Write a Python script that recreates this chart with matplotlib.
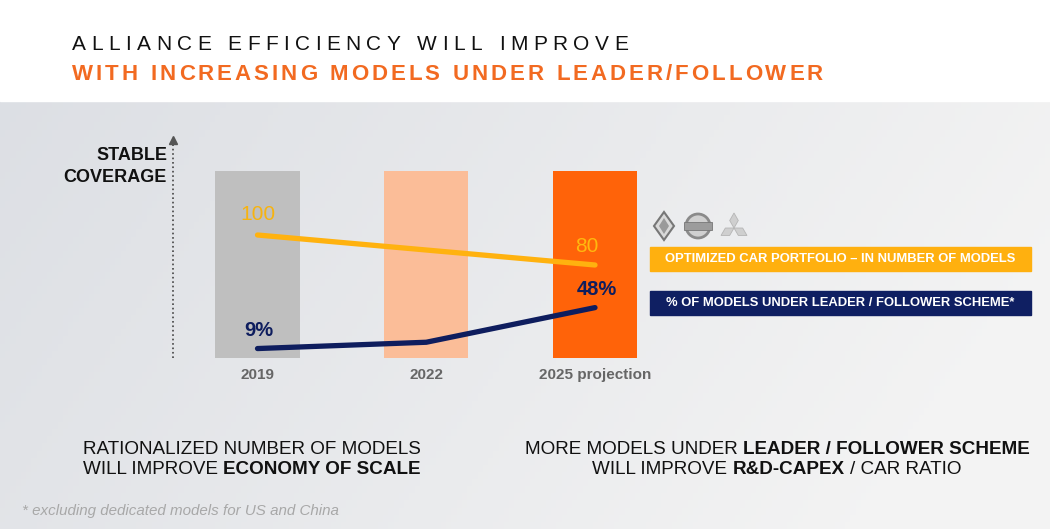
import numpy as np
import matplotlib.pyplot as plt
from matplotlib.patches import Rectangle, Polygon, Circle

plt.rcParams['font.family'] = ['Liberation Sans', 'DejaVu Sans']

# Data
years = ['2019', '2022', '2025 projection']
coverage = [1, 1, 1]                      # stable coverage, same for each year
portfolio_x = [0, 2]                      # optimized car portfolio (number of models)
portfolio = [100, 80]
leader_share = [9, 15, 48]                # % of models under leader / follower scheme
leader_labels = ['9%', '', '48%']

title1 = 'ALLIANCE EFFICIENCY WILL IMPROVE'
title2 = 'WITH INCREASING MODELS UNDER LEADER/FOLLOWER'
legend1 = 'OPTIMIZED CAR PORTFOLIO \u2013 IN NUMBER OF MODELS'
legend2 = '% OF MODELS UNDER LEADER / FOLLOWER SCHEME*'
footnote = '* excluding dedicated models for US and China'

bar_colors = ['#bfbfbf', '#fbbd98', '#ff6309']
yellow = '#ffb20f'
navy = '#0e1d5e'
orange = '#f26a21'

W, H = 1050, 529
fig = plt.figure(figsize=(W / 100, H / 100), dpi=100)

# background: white header, grey gradient below
bg = fig.add_axes([0, 0, 1, 1])
bg.set_xlim(0, W)
bg.set_ylim(H, 0)
bg.axis('off')
gx = np.linspace(0, 1, 200)
gy = np.linspace(0, 1, 60)
GX, GY = np.meshgrid(gx, gy)
left_c = np.array([0.865, 0.875, 0.895])
right_c = np.array([0.955, 0.955, 0.955])
t = np.clip(GX * 0.9 + GY * 0.25, 0, 1)[..., None]
grad = left_c * (1 - t) + right_c * t
bg.imshow(grad, extent=[0, W, H, 101], aspect='auto', zorder=0)
bg.add_patch(Rectangle((0, 0), W, 101, color='white', zorder=1))

# vertical dotted axis arrow
bg.plot([173, 173], [358, 142], ls=':', color='#444444', lw=1.2, zorder=2)
bg.plot([173], [140], marker='^', color='#555555', ms=6, zorder=2)

# main chart
x = np.arange(len(years))
px = 168.75
ax = fig.add_axes([(257.5 - 0.55 * px) / W, 1 - 358 / H, 3.1 * px / W, (358 - 135) / H])
ax.patch.set_alpha(0)
ax.bar(x, coverage, width=0.5, color=bar_colors, zorder=1)
ax.set_xlim(-0.55, 2.55)
ax.set_ylim(0, 223 / 187)
ax.set_xticks(x, years)
ax.tick_params(length=0, pad=7, labelsize=11, labelcolor='#666666')
for lab in ax.get_xticklabels():
    lab.set_fontweight('bold')
ax.set_yticks([])
for s in ax.spines.values():
    s.set_visible(False)

ay = ax.twinx()
ay.set_ylim(18, 250 / 1.5)
ay.plot(portfolio_x, portfolio, color=yellow, lw=3.8, solid_capstyle='round')
ay.annotate(str(portfolio[0]), (portfolio_x[0], portfolio[0]), xytext=(0, 14.5),
            textcoords='offset points', ha='center', va='center',
            fontsize=15, color='#f7b30f')
ay.annotate(str(portfolio[1]), (portfolio_x[1], portfolio[1]), xytext=(-6, 13.5),
            textcoords='offset points', ha='center', va='center',
            fontsize=15, color='#ffb80f')

an = ax.twinx()
an.set_ylim(0, 223 / 1.05)
an.plot(x, leader_share, color=navy, lw=3.8, solid_capstyle='round')
for xi, v, lab in zip(x, leader_share, leader_labels):
    if lab:
        an.annotate(lab, (xi, v), xytext=(1, 13), textcoords='offset points',
                    ha='center', va='center', fontsize=14.5, fontweight='bold', color=navy)

for a in (ay, an):
    a.set_yticks([])
    a.axis('off')

fig.text(167 / W, 1 - 155 / H, 'STABLE', ha='right', va='center',
         fontsize=13, fontweight='bold', color='#111111')
fig.text(167 / W, 1 - 177 / H, 'COVERAGE', ha='right', va='center',
         fontsize=13, fontweight='bold', color='#111111')

# legend boxes and logos
bg.add_patch(Rectangle((650, 247), 381, 24, color='#ffb00f', zorder=3))
bg.add_patch(Rectangle((650, 291), 381, 24, color='#0f1f62', zorder=3))
bg.text(840, 259.5, legend1, ha='center', va='center', fontsize=9.4,
        fontweight='bold', color='white', zorder=4)
bg.text(840, 303.5, legend2, ha='center', va='center', fontsize=9.4,
        fontweight='bold', color='white', zorder=4)

bg.add_patch(Polygon([[664, 212], [674, 226], [664, 240], [654, 226]],
                     closed=True, fc='#d9d9d9', ec='#777777', lw=1.5, zorder=3))
bg.add_patch(Polygon([[664, 218], [669, 226], [664, 234], [659, 226]],
                     closed=True, fc='#9a9a9a', ec='none', zorder=4))
bg.add_patch(Circle((698, 226), 12, fc='#d0d0d0', ec='#8a8a8a', lw=2, zorder=3))
bg.add_patch(Rectangle((684, 222), 28, 8, fc='#9c9c9c', ec='#777777', lw=0.6, zorder=4))
c = np.array([734.0, 228.0])
for ang in (90, 210, 330):
    d = np.array([np.cos(np.radians(ang)), -np.sin(np.radians(ang))])
    p = np.array([-d[1], d[0]])
    pts = [c, c + d * 7.5 + p * 4.3, c + d * 15, c + d * 7.5 - p * 4.3]
    bg.add_patch(Polygon(pts, closed=True, fc='#cfcfcf', ec='#b5b5b5', lw=0.6, zorder=3))

# text helpers (pixel coordinates)
fig.canvas.draw()
rend = fig.canvas.get_renderer()


def text_width(s, **kw):
    tt = fig.text(0, 0, s, **kw)
    w = tt.get_window_extent(rend).width
    tt.remove()
    return w


def tracked(x0, x1, y, s, space=0.278, **kw):
    sp = space * kw['fontsize'] * 100 / 72
    widths = [sp if ch == ' ' else text_width(ch, **kw) for ch in s]
    track = (x1 - x0 - sum(widths)) / (len(s) - 1)
    xx = x0
    for ch, w in zip(s, widths):
        if ch != ' ':
            fig.text(xx / W, 1 - y / H, ch, ha='left', va='center', **kw)
        xx += w + track


def mixed(cx, y, parts, size=13.6, color='#111111'):
    sp = 0.278 * size * 100 / 72
    widths = [text_width(s, fontsize=size, fontweight=wt) for s, wt in parts]
    total = sum(widths) + sp * (len(parts) - 1)
    xx = cx - total / 2
    for (s, wt), w in zip(parts, widths):
        fig.text(xx / W, 1 - y / H, s, ha='left', va='center', fontsize=size,
                 fontweight=wt, color=color)
        xx += w + sp


tracked(72, 628, 45, title1, fontsize=15, color='#111111')
tracked(72, 823, 75, title2, space=0.3, fontsize=16, fontweight='bold', color=orange)

mixed(252, 450, [('RATIONALIZED NUMBER OF MODELS', 'normal')])
mixed(252, 470, [('WILL IMPROVE', 'normal'), ('ECONOMY OF SCALE', 'bold')])
mixed(777, 450, [('MORE MODELS UNDER', 'normal'), ('LEADER / FOLLOWER SCHEME', 'bold')])
mixed(777, 470, [('WILL IMPROVE', 'normal'), ('R&D-CAPEX', 'bold'), ('/ CAR RATIO', 'normal')])

fig.text(22 / W, 1 - 511 / H, footnote, ha='left', va='center', fontsize=10.9,
         style='italic', color='#a8a8a8')

fig.savefig('out.png', dpi=100)
